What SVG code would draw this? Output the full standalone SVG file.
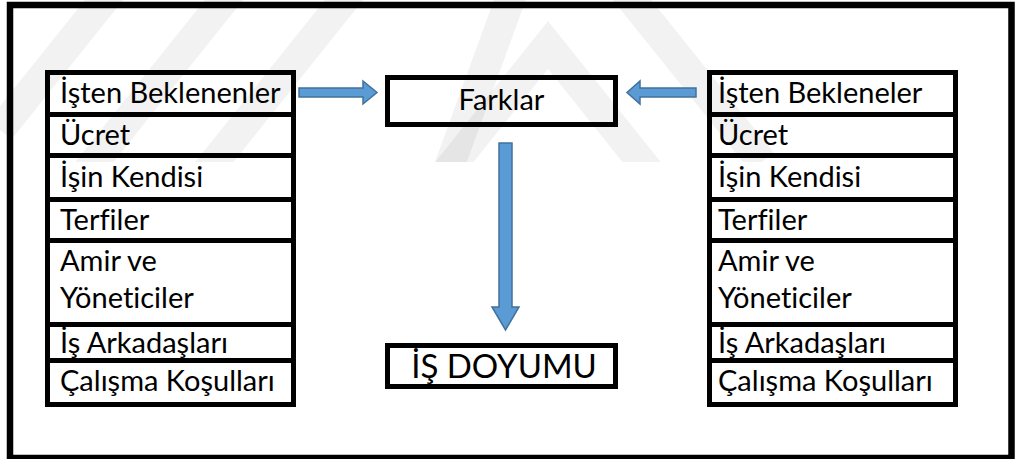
<svg xmlns="http://www.w3.org/2000/svg" width="1016" height="459" viewBox="0 0 1016 459">
  <style>
    .frame { fill: #ffffff; stroke: #000000; stroke-width: 6.5; }
    .cell { fill: none; stroke: #000000; stroke-width: 5; }
    .box { fill: none; stroke: #000000; stroke-width: 5; }
    .lbl { font-family: Lato, "Liberation Sans", sans-serif; font-size: 29px; fill: #000000;
           font-variant-ligatures: none; font-feature-settings: "liga" 0, "clig" 0; }
    .mid { text-anchor: middle; }
    .big { font-size: 33px; }
    .arrow { fill: #5B9BD5; stroke: #41719C; stroke-width: 1.5; stroke-linejoin: miter; }
    .wm { fill: none; stroke: #000000; stroke-opacity: 0.05; stroke-width: 30; stroke-linejoin: miter; }
  </style>
  <defs>
    <clipPath id="wm-clip"><rect x="0" y="0" width="1016" height="162"/></clipPath>
  </defs>

  <!-- outer frame -->
  <rect class="frame" x="10" y="5" width="1001.5" height="453"/>

  <!-- faint background emblem: nested chevrons -->
  <g clip-path="url(#wm-clip)">
    <polyline class="wm" points="348,295 548,45 748,295"/>
    <polyline class="wm" points="348,445 548,-105 762,162"/>
    <polyline class="wm" points="0,430 548,-255"/>
    <polyline class="wm" points="0,280 548,-405"/>
    <polyline class="wm" points="0,130 548,-555"/>
  </g>

  <!-- left factor list -->
  <g id="left-list">
    <g id="left-beklenenler"><rect class="cell" x="47.5" y="72.5" width="246" height="42"/><text class="lbl" x="60" y="103">İşten Beklenenler</text></g>
    <g id="left-ucret"><rect class="cell" x="47.5" y="114.5" width="246" height="41"/><text class="lbl" x="60" y="145">Ücret</text></g>
    <g id="left-isin-kendisi"><rect class="cell" x="47.5" y="155.5" width="246" height="44"/><text class="lbl" x="60" y="187">İşin Kendisi</text></g>
    <g id="left-terfiler"><rect class="cell" x="47.5" y="199.5" width="246" height="41"/><text class="lbl" x="60" y="230">Terfiler</text></g>
    <g id="left-amir"><rect class="cell" x="47.5" y="240.5" width="246" height="84"/><text class="lbl" x="60" y="271">Amir ve</text><text class="lbl" x="60" y="308">Yöneticiler</text></g>
    <g id="left-arkadaslar"><rect class="cell" x="47.5" y="324.5" width="246" height="36"/><text class="lbl" x="60" y="353">İş Arkadaşları</text></g>
    <g id="left-kosullar"><rect class="cell" x="47.5" y="360.5" width="246" height="44"/><text class="lbl" x="60" y="391">Çalışma Koşulları</text></g>
  </g>

  <!-- right factor list -->
  <g id="right-list">
    <g id="right-bekleneler"><rect class="cell" x="709.5" y="72.5" width="246" height="42"/><text class="lbl" x="718" y="103">İşten Bekleneler</text></g>
    <g id="right-ucret"><rect class="cell" x="709.5" y="114.5" width="246" height="41"/><text class="lbl" x="718" y="145">Ücret</text></g>
    <g id="right-isin-kendisi"><rect class="cell" x="709.5" y="155.5" width="246" height="44"/><text class="lbl" x="718" y="187">İşin Kendisi</text></g>
    <g id="right-terfiler"><rect class="cell" x="709.5" y="199.5" width="246" height="41"/><text class="lbl" x="718" y="230">Terfiler</text></g>
    <g id="right-amir"><rect class="cell" x="709.5" y="240.5" width="246" height="84"/><text class="lbl" x="718" y="271">Amir ve</text><text class="lbl" x="718" y="308">Yöneticiler</text></g>
    <g id="right-arkadaslar"><rect class="cell" x="709.5" y="324.5" width="246" height="36"/><text class="lbl" x="718" y="353">İş Arkadaşları</text></g>
    <g id="right-kosullar"><rect class="cell" x="709.5" y="360.5" width="246" height="44"/><text class="lbl" x="718" y="391">Çalışma Koşulları</text></g>
  </g>

  <!-- differences -->
  <g id="farklar">
    <rect class="box" x="387.5" y="77.5" width="228" height="47"/>
    <text class="lbl mid" x="501.5" y="110">Farklar</text>
  </g>

  <!-- job satisfaction -->
  <g id="is-doyumu">
    <rect class="box" x="387.5" y="345.5" width="228" height="41"/>
    <text class="lbl mid big" x="504" y="378">İŞ DOYUMU</text>
  </g>

  <!-- block arrows -->
  <g id="connectors">
    <polygon class="arrow" points="299,88 363,88 363,81 377,92.5 363,104 363,97 299,97"/>
    <polygon class="arrow" points="696,88 640,88 640,81 627,92.5 640,104 640,97 696,97"/>
    <polygon class="arrow" points="499,143 512,143 512,307 519,307 505.5,330 492,307 499,307"/>
  </g>
</svg>
